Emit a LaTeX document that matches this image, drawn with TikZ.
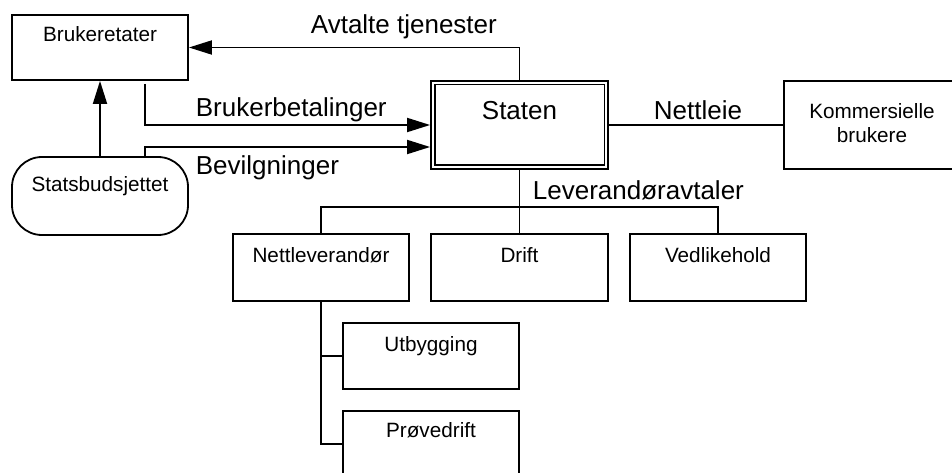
\documentclass[tikz,border=0pt]{standalone}
\usepackage{fontspec}
\setmainfont{Liberation Sans}
\usetikzlibrary{arrows.meta}
\begin{document}
\begin{tikzpicture}[x=1pt,y=-1pt,
  line width=1.8pt,
  box/.style={draw, rectangle, minimum width=176pt, inner sep=0pt},
  pill/.style={draw, rectangle, rounded corners=30pt, minimum width=176pt, minimum height=78pt, inner sep=0pt},
  btext/.style={anchor=base, inner sep=0pt, font=\fontsize{20.7}{24}\selectfont},
  ltext/.style={anchor=base west, inner sep=0pt, font=\fontsize{26}{31}\selectfont},
  arr/.style={-{Triangle[length=23pt,width=14pt]}}]
\useasboundingbox (0,0) rectangle (952,473);
\clip (0,0) rectangle (952,473);
% boxes
\node[box, minimum height=65pt] (brk) at (100,47.5) {};
\node[pill] (sb) at (100,196) {};
\node[box, minimum width=177pt, minimum height=88pt] (st) at (519.5,125) {};
\draw ([shift={(4.5pt,-4.5pt)}]st.north west) rectangle ([shift={(-4.5pt,4.5pt)}]st.south east);
\node[box, minimum height=88pt] (kb) at (872,125) {};
\node[box, minimum height=67pt] (nl) at (321,267.5) {};
\node[box, minimum width=177pt, minimum height=67pt] (dr) at (519.5,267.5) {};
\node[box, minimum height=67pt] (vl) at (718,267.5) {};
\node[box, minimum height=66pt] (ut) at (431,356) {};
\node[box, minimum height=66pt] (pd) at (431,444) {};
% box texts
\node[btext] (tbrk) at (100,42) {Brukeretater};
\node[btext] (tsb) at (100,191) {Statsbudsjettet};
\node[btext, font=\fontsize{26}{31}\selectfont] (tst) at (519.5,120) {Staten};
\node[btext] (tkb1) at (872,119) {Kommersielle};
\node[btext] (tkb2) at (872,143) {brukere};
\node[btext] (tnl) at (321,262) {Nettleverandør};
\node[btext] (tdr) at (519.5,262) {Drift};
\node[btext] (tvl) at (718,262) {Vedlikehold};
\node[btext] (tut) at (431,351) {Utbygging};
\node[btext] (tpd) at (431,437) {Prøvedrift};
% labels
\node[ltext] (lav) at (310,34) {Avtalte tjenester};
\node[ltext] (lbb) at (195,117) {Brukerbetalinger};
\node[ltext] (lbv) at (195,175) {Bevilgninger};
\node[ltext] (lnl) at (653,120) {Nettleie};
\node[ltext] (llv) at (532,199) {Leverandøravtaler};
% connectors
\coordinate (bbstart) at (145,84);
\coordinate (bvy) at (0,147);
\coordinate (lv) at (519.5,207);
\draw[arr] (st.north) |- (brk.east);
\draw[arr] (sb.north) -- (brk.south);
\draw[arr] (bbstart) |- (st.west);
\draw[arr] (sb.north -| bbstart) |- (st.west |- bvy);
\draw (st.east) -- (kb.west);
\draw (st.south) -- (dr.north);
\draw (nl.north) |- (lv) -| (vl.north);
\draw (nl.south) |- (pd.west);
\draw (nl.south |- ut.west) -- (ut.west);
\end{tikzpicture}
\end{document}
